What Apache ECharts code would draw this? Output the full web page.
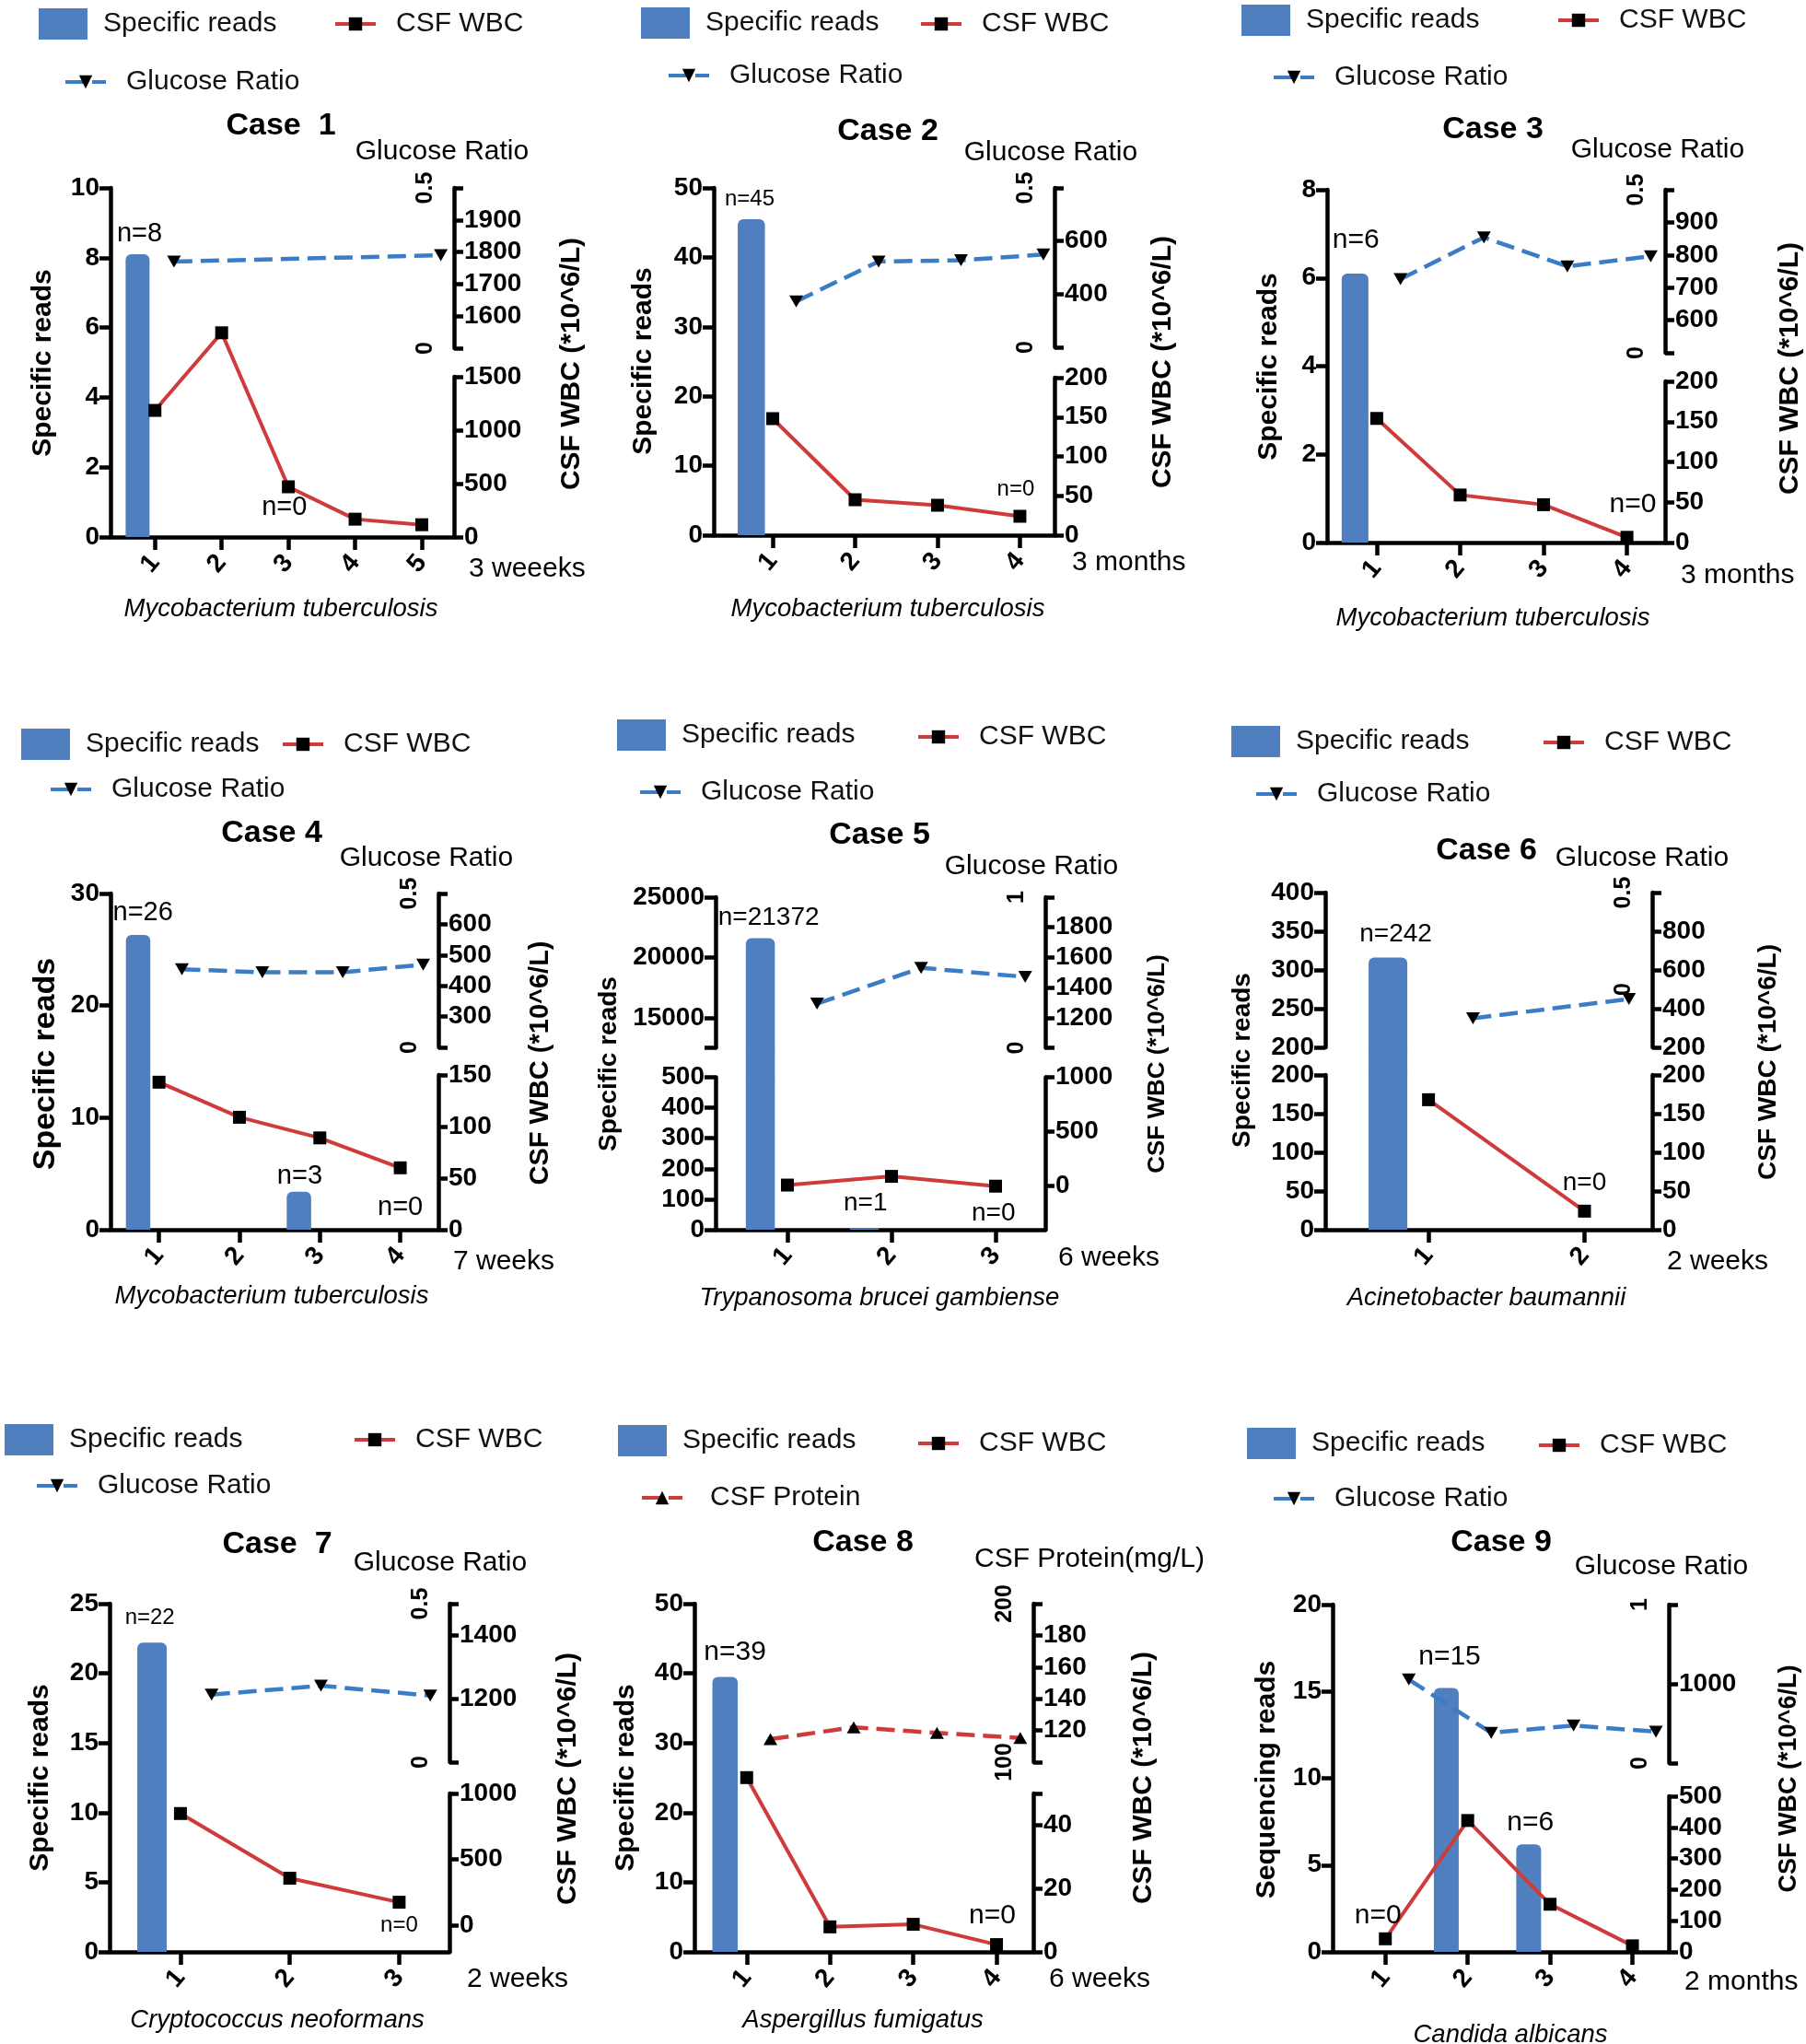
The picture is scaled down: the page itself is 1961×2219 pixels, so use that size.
<!DOCTYPE html>
<html><head><meta charset="utf-8">
<script src="https://cdn.jsdelivr.net/npm/echarts@6/dist/echarts.min.js"></script>
<style>html,body{margin:0;padding:0;background:#fff}#c{width:1961px;height:2219px}</style>
</head><body><div id="c"></div>
<script>
// ---------------- DATA ----------------
// Case 1
const c1Cat = ['1','2','3','4','5'];
const c1Reads = [8.1, null, 0, null, null];
const c1Wbc = [1185, 1548, 470, 167, 115];
const c1Glu = [0.27, null, null, null, 0.29];
const c1LeftTicks = [0,2,4,6,8,10];
const c1WbcTicks = [0,500,1000,1500];
const c1UpTicks = [1500,1600,1700,1800,1900,2000];
const c1UpLabels = [1600,1700,1800,1900];
const c1GluLabels = [0,0.5];
// Case 2
const c2Cat = ['1','2','3','4'];
const c2Reads = [45.5, null, null, 0];
const c2Wbc = [148, 45, 38, 24];
const c2Glu = [0.144, 0.269, 0.273, 0.291];
const c2LeftTicks = [0,10,20,30,40,50];
const c2WbcTicks = [0,50,100,150,200];
const c2UpTicks = [200,400,600,800];
const c2UpLabels = [400,600];
const c2GluLabels = [0,0.5];
// Case 3
const c3Cat = ['1','2','3','4'];
const c3Reads = [6.1, null, null, 0];
const c3Wbc = [154, 59, 47, 6.5];
const c3Glu = [0.226, 0.354, 0.265, 0.296];
const c3LeftTicks = [0,2,4,6,8];
const c3WbcTicks = [0,50,100,150,200];
const c3UpTicks = [500,600,700,800,900,1000];
const c3UpLabels = [600,700,800,900];
const c3GluLabels = [0,0.5];
// Case 4
const c4Cat = ['1','2','3','4'];
const c4Reads = [26.3, null, 3.4, 0];
const c4Wbc = [143, 109, 89, 60];
const c4Glu = [0.254, 0.244, 0.244, 0.269];
const c4LeftTicks = [0,10,20,30];
const c4WbcTicks = [0,50,100,150];
const c4UpTicks = [200,300,400,500,600,700];
const c4UpLabels = [300,400,500,600];
const c4GluLabels = [0,0.5];
// Case 5
const c5Cat = ['1','2','3'];
const c5Reads = [21600, 5, 0];
const c5Wbc = [10, 90, 0];
const c5Glu = [0.293, 0.531, 0.471];
const c5LeftLowTicks = [0,100,200,300,400,500];
const c5LeftUpTicks = [12500,15000,20000,25000];
const c5LeftUpLabels = [15000,20000,25000];
const c5WbcTicks = [0,500,1000];
const c5UpTicks = [1000,1200,1400,1600,1800,2000];
const c5UpLabels = [1200,1400,1600,1800];
const c5GluLabels = [0,1];
// Case 6
const c6Cat = ['1','2'];
const c6Reads = [316, 0];
const c6Wbc = [168, 24];
const c6Glu = [-0.15, -0.05];
const c6LeftLowTicks = [0,50,100,150,200];
const c6LeftUpTicks = [200,250,300,350,400];
const c6WbcTicks = [0,50,100,150,200];
const c6UpTicks = [200,400,600,800,1000];
const c6UpLabels = [200,400,600,800];
const c6GluLabels = [0,0.5];
// Case 7
const c7Cat = ['1','2','3'];
const c7Reads = [22.2, null, 0];
const c7Wbc = [848, 358, 176];
const c7Glu = [0.213, 0.241, 0.210];
const c7LeftTicks = [0,5,10,15,20,25];
const c7WbcTicks = [0,500,1000];
const c7UpTicks = [1000,1200,1400,1500];
const c7UpLabels = [1200,1400];
const c7GluLabels = [0,0.5];
// Case 8
const c8Cat = ['1','2','3','4'];
const c8Reads = [39.5, null, null, 0];
const c8Wbc = [55, 7.9, 8.7, 2.3];
const c8Protein = [114.5, 122, 118.4, 115.3];
const c8LeftTicks = [0,10,20,30,40,50];
const c8WbcTicks = [0,20,40,50];
const c8WbcLabels = [0,20,40];
const c8UpTicks = [100,120,140,160,180,200];
const c8UpLabels = [120,140,160,180];
const c8ProteinLabels = [100,200];
// Case 9
const c9Cat = ['1','2','3','4'];
const c9Reads = [0, 15.2, 6.2, null];
const c9Wbc = [42, 422, 153, 19.5];
const c9Glu = [0.527, 0.191, 0.237, 0.198];
const c9LeftTicks = [0,5,10,15,20];
const c9WbcTicks = [0,100,200,300,400,500];
const c9UpTicks = [0,1000,2000];
const c9UpLabels = [1000];
const c9GluLabels = [0,1];

// ---------------- STYLE ----------------
const FONT = 'Liberation Sans';
const BAR = '#4F7FBF';
const RED = '#CF3A3A';
const BLUE = '#3A7CC6';
const BAR_OFF = -0.26, GLU_OFF = 0.285;
const TRI_DOWN = 'path://M0,0L10,0L5,9Z';
const AXW = 4.5;

const first = a => a[0], last = a => a[a.length-1];
const seg = (ticks, labels, min, max) => ({min: min ?? first(ticks), max: max ?? last(ticks), ticks, labels: labels || ticks});

// ---------------- PANELS (layout) ----------------
const panels = [
 {cat:c1Cat, reads:c1Reads, wbc:c1Wbc, glu:c1Glu, L:120,R:493,T:204,UB:378,LT:409,B:583, xmin:0.334,xmax:5.483, barW:26, noteSize:29,
  left:seg(c1LeftTicks), wbcLow:seg(c1WbcTicks), up:seg(c1UpTicks,c1UpLabels), gluAx:{min:0,max:0.5,labels:c1GluLabels}, wbcUp:true,
  notes:[{t:'n=8',x:0.77,y:8.68},{t:'n=0',x:2.94,y:0.84}],
  lg:{rect:[42,26],wbc:[362,26],glu:[69,89]},
  title:[305,137,'Case  1'], topName:[480,165,'Glucose Ratio'], leftName:[47,394,'Specific reads',30], rightName:[621,395,30],
  time:[509,618,'3 weeeks'], species:[305,661,'Mycobacterium tuberculosis']},
 {cat:c2Cat, reads:c2Reads, wbc:c2Wbc, glu:c2Glu, L:775,R:1145,T:204,UB:377,LT:410,B:581, xmin:0.284,xmax:4.42, barW:29.5, noteSize:24,
  left:seg(c2LeftTicks), wbcLow:seg(c2WbcTicks), up:seg(c2UpTicks,c2UpLabels), gluAx:{min:0,max:0.5,labels:c2GluLabels},
  notes:[{t:'n=45',x:0.72,y:48.3},{t:'n=0',x:3.95,y:6.6}],
  lg:{rect:[696,25],wbc:[998,26],glu:[724,82]},
  title:[964,143,'Case 2'], topName:[1141,166,'Glucose Ratio'], leftName:[699,392,'Specific reads',30], rightName:[1263,393,30],
  time:[1164,611,'3 months'], species:[964,661,'Mycobacterium tuberculosis']},
 {cat:c3Cat, reads:c3Reads, wbc:c3Wbc, glu:c3Glu, L:1441,R:1808,T:206,UB:383,LT:414,B:589, xmin:0.405,xmax:4.457, barW:29, noteSize:30,
  left:seg(c3LeftTicks), wbcLow:seg(c3WbcTicks), up:seg(c3UpTicks,c3UpLabels), gluAx:{min:0,max:0.5,labels:c3GluLabels},
  notes:[{t:'n=6',x:0.75,y:6.86},{t:'n=0',x:4.07,y:0.86}],
  lg:{rect:[1348,22],wbc:[1690,22],glu:[1381,84]},
  title:[1621,141,'Case 3'], topName:[1800,163,'Glucose Ratio'], leftName:[1378,398,'Specific reads',30], rightName:[1944,400,30],
  time:[1825,625,'3 months'], species:[1621,671,'Mycobacterium tuberculosis']},
 {cat:c4Cat, reads:c4Reads, wbc:c4Wbc, glu:c4Glu, L:120,R:476,T:970,UB:1137,LT:1167,B:1335, xmin:0.397,xmax:4.474, barW:26.5, noteSize:29,
  left:seg(c4LeftTicks), wbcLow:seg(c4WbcTicks), up:seg(c4UpTicks,c4UpLabels), gluAx:{min:0,max:0.5,labels:c4GluLabels},
  notes:[{t:'n=26',x:0.80,y:28.3},{t:'n=3',x:2.75,y:4.8},{t:'n=0',x:4.0,y:2.0}],
  lg:{rect:[23,808],wbc:[305,808],glu:[53,857]},
  title:[295,905,'Case 4'], topName:[463,932,'Glucose Ratio'], leftName:[50,1155,'Specific reads',34], rightName:[587,1154,29],
  time:[492,1370,'7 weeks'], species:[295,1407,'Mycobacterium tuberculosis']},
 {cat:c5Cat, reads:c5Reads, wbc:c5Wbc, glu:c5Glu, L:777,R:1135,T:974,UB:1137.5,LT:1169.5,B:1335, xmin:0.31,xmax:3.478, barW:31.5, noteSize:28,
  leftLow:seg(c5LeftLowTicks), leftUp:seg(c5LeftUpTicks,c5LeftUpLabels), wbcLow:seg(c5WbcTicks,null,-400,1000), up:seg(c5UpTicks,c5UpLabels), gluAx:{min:0,max:1,labels:c5GluLabels},
  notes:[{t:'n=21372',x:0.82,y:23300},{t:'n=1',x:1.75,y:86.6},{t:'n=0',x:2.98,y:54}],
  lg:{rect:[670,798],wbc:[995,800],glu:[693,860]},
  title:[955,907,'Case 5'], topName:[1120,941,'Glucose Ratio'], leftName:[661,1155,'Specific reads',28], rightName:[1257,1155,26],
  time:[1149,1366,'6 weeks'], species:[955,1409,'Trypanosoma brucei gambiense']},
 {cat:c6Cat, reads:c6Reads, wbc:c6Wbc, glu:c6Glu, L:1439,R:1794,T:969,UB:1137,LT:1167,B:1335, xmin:0.338,xmax:2.434, barW:42, noteSize:28,
  leftLow:seg(c6LeftLowTicks), leftUp:seg(c6LeftUpTicks), wbcLow:seg(c6WbcTicks), up:seg(c6UpTicks,c6UpLabels), gluAx:{min:-0.3,max:0.5,labels:c6GluLabels},
  notes:[{t:'n=242',x:0.79,y:346.6},{t:'n=0',x:2.0,y:60}],
  lg:{rect:[1337,805],wbc:[1674,806],glu:[1362,862]},
  title:[1614,924,'Case 6'], topName:[1783,932,'Glucose Ratio'], leftName:[1349,1151,'Specific reads',28], rightName:[1920,1153,28],
  time:[1810,1370,'2 weeks'], species:[1614,1409,'Acinetobacter baumannii']},
 {cat:c7Cat, reads:c7Reads, wbc:c7Wbc, glu:c7Glu, L:119,R:488,T:1741,UB:1913,LT:1947,B:2119, xmin:0.352,xmax:3.46, barW:32, noteSize:24,
  left:seg(c7LeftTicks), wbcLow:seg(c7WbcTicks,null,-200,1000), up:seg(c7UpTicks,c7UpLabels), gluAx:{min:0,max:0.5,labels:c7GluLabels},
  notes:[{t:'n=22',x:0.72,y:24},{t:'n=0',x:3.0,y:1.9}],
  lg:{rect:[5,1563],wbc:[383,1563],glu:[38,1613]},
  title:[301,1677,'Case  7'], topName:[478,1697,'Glucose Ratio'], leftName:[44,1930,'Specific reads',30], rightName:[617,1931,30],
  time:[507,2149,'2 weeks'], species:[301,2193,'Cryptococcus neoformans']},
 {cat:c8Cat, reads:c8Reads, wbc:c8Wbc, glu:c8Protein, protein:true, L:754,R:1122,T:1741,UB:1913,LT:1947,B:2119, xmin:0.372,xmax:4.442, barW:27.5, noteSize:30,
  left:seg(c8LeftTicks), wbcLow:seg(c8WbcTicks,c8WbcLabels), up:seg(c8UpTicks,c8UpLabels), gluAx:{min:100,max:200,labels:c8ProteinLabels}, wbcNoClip:true,
  notes:[{t:'n=39',x:0.86,y:43},{t:'n=0',x:3.95,y:5.2}],
  lg:{rect:[671,1564],wbc:[995,1567],glu:[695,1626]},
  title:[937,1675,'Case 8'], topName:[1183,1693,'CSF Protein(mg/L)'], leftName:[680,1930,'Specific reads',30], rightName:[1242,1930,30],
  time:[1139,2149,'6 weeks'], species:[937,2193,'Aspergillus fumigatus']},
 {cat:c9Cat, reads:c9Reads, wbc:c9Wbc, glu:c9Glu, L:1447,R:1812,T:1742,UB:1914,LT:1950,B:2119, xmin:0.36,xmax:4.441, barW:27, noteSize:30,
  left:seg(c9LeftTicks), wbcLow:seg(c9WbcTicks), up:seg(c9UpTicks,c9UpLabels), gluAx:{min:0,max:1,labels:c9GluLabels},
  notes:[{t:'n=15',x:1.78,y:17.0},{t:'n=6',x:2.76,y:7.46},{t:'n=0',x:0.91,y:2.1}],
  lg:{rect:[1354,1567],wbc:[1669,1569],glu:[1381,1627]},
  title:[1630,1675,'Case 9'], topName:[1804,1701,'Glucose Ratio'], leftName:[1376,1932,'Sequencing reads',30], rightName:[1943,1931,27],
  time:[1829,2152,'2 months'], species:[1640,2209,'Candida albicans']}
];

// ---------------- BUILD ----------------
const option = {animation:false, backgroundColor:'#ffffff', grid:[], xAxis:[], yAxis:[], series:[], legend:[]};
const texts = [];

function addGrid(l,t,w,h){ option.grid.push({left:l, top:t, width:w, height:h, containLabel:false, outerBoundsMode:'none'}); return option.grid.length-1; }
function addX(g, p, visible){
  const ticks = p.cat.map((c,i)=>i+1);
  option.xAxis.push({type:'value', gridIndex:g, min:p.xmin, max:p.xmax, show:visible,
    axisLine:{show:true, onZero:false, lineStyle:{color:'#000', width:AXW}},
    axisTick:{show:true, inside:false, length:14, customValues:ticks, lineStyle:{color:'#000', width:AXW}},
    axisLabel:{show:true, customValues:ticks, formatter:v=>p.cat[Math.round(v)-1], rotate:50, margin:23,
      fontSize:28, fontWeight:'bold', fontFamily:FONT, color:'#000'},
    splitLine:{show:false}});
  return option.xAxis.length-1;
}
function addY(g, pos, s, o){
  o = o || {};
  option.yAxis.push({type:'value', gridIndex:g, position:pos, min:s.min, max:s.max, show:!o.hidden,
    axisLine:{show:!o.noLine, onZero:false, lineStyle:{color:'#000', width:AXW}},
    axisTick:{show:!!s.ticks, inside:false, length:pos==='left'?12:10, customValues:s.ticks, lineStyle:{color:'#000', width:AXW}},
    axisLabel:{show:!!s.labels, customValues:s.labels, inside:!!o.rot, rotate:o.rot?90:0,
      margin:o.rot?18:(pos==='left'?12:11), fontSize:o.rot?25:28, fontWeight:'bold', fontFamily:FONT, color:'#000',
      formatter:v=>String(v)},
    splitLine:{show:false}});
  return option.yAxis.length-1;
}
function txt(x,y,text,size,o){
  o = o || {};
  return {type:'text', x:x, y:y, rotation:o.rot?Math.PI/2:0, silent:true, z:10,
    style:{text:text, fontSize:size, fontFamily:FONT, fontWeight:o.bold?'bold':'normal', fontStyle:o.italic?'italic':'normal',
      fill:'#000', align:o.align||'center', verticalAlign:'middle'}};
}
const lgText = pad => ({fontSize:30, fontFamily:FONT, color:'#111', padding:[0,0,0,pad]});

panels.forEach(p => {
  const W = p.R - p.L;
  const broken = !!p.leftLow;
  const ix = {};
  const gLow = addGrid(p.L, p.LT, W, p.B - p.LT);
  const gUp = addGrid(p.L, p.T, W, p.UB - p.T);
  ix.lowX = addX(gLow, p, true);
  ix.upX = addX(gUp, p, false);
  ix.wbcY = addY(gLow, 'right', p.wbcLow);
  ix.upY = addY(gUp, 'right', p.up);
  ix.gluY = addY(gUp, 'right', p.gluAx, {rot:true, noLine:true});
  if (!broken) {
    const gFull = addGrid(p.L, p.T, W, p.B - p.T);
    ix.fullX = addX(gFull, p, false);
    ix.leftY = addY(gFull, 'left', p.left);
  } else {
    ix.leftLowY = addY(gLow, 'left', p.leftLow);
    ix.leftUpY = addY(gUp, 'left', p.leftUp);
    // bridge across the axis break, overlapping both segments by 1px to avoid seams
    const gBr = addGrid(p.L, p.UB - 1, W, p.LT - p.UB + 2);
    ix.brX = addX(gBr, p, false);
    ix.brY = addY(gBr, 'left', {min:0, max:1}, {hidden:true});
  }
  p.ix = ix;

  // bars
  const barPts = [];
  p.reads.forEach((v,i)=>{ if (v != null) barPts.push([i+1+BAR_OFF, v]); });
  const bb = {type:'bar', barWidth:p.barW, silent:true, z:2};
  if (!broken) {
    option.series.push(Object.assign({}, bb, {name:'Specific reads', xAxisIndex:ix.fullX, yAxisIndex:ix.leftY, data:barPts,
      itemStyle:{color:BAR, borderRadius:[6,6,0,0]}}));
  } else {
    const m = p.leftLow.max;
    option.series.push(Object.assign({}, bb, {name:'Specific reads', xAxisIndex:ix.lowX, yAxisIndex:ix.leftLowY, data:barPts, itemStyle:{color:BAR}}));
    option.series.push(Object.assign({}, bb, {xAxisIndex:ix.brX, yAxisIndex:ix.brY, data:barPts.map(d=>[d[0], d[1] > m ? 1 : 0]), itemStyle:{color:BAR}}));
    option.series.push(Object.assign({}, bb, {xAxisIndex:ix.upX, yAxisIndex:ix.leftUpY, data:barPts.filter(d=>d[1] > m),
      itemStyle:{color:BAR, borderRadius:[6,6,0,0]}}));
  }

  // CSF WBC
  const wm = p.wbcLow.max;
  const lineBase = {type:'line', symbol:'rect', symbolSize:14, itemStyle:{color:'#000'}, lineStyle:{color:RED, width:4},
    connectNulls:false, silent:true, z:3};
  option.series.push(Object.assign({}, lineBase, {name:'CSF WBC', xAxisIndex:ix.lowX, yAxisIndex:ix.wbcY,
    clip: !p.wbcNoClip,
    data:p.wbc.map((v,i)=>[i+1, (v != null && !(p.wbcUp && v > wm)) ? v : null])}));
  if (p.wbcUp) {
    option.series.push(Object.assign({}, lineBase, {xAxisIndex:ix.upX, yAxisIndex:ix.upY,
      data:p.wbc.map((v,i)=>[i+1, (v != null && v > wm) ? v : null])}));
  }

  // glucose ratio / protein
  const gd = [];
  p.glu.forEach((v,i)=>{ if (v != null) gd.push([i+1+GLU_OFF, v]); });
  option.series.push({type:'line', name:p.protein ? 'CSF Protein' : 'Glucose Ratio', xAxisIndex:ix.upX, yAxisIndex:ix.gluY, data:gd,
    symbol:p.protein ? 'triangle' : TRI_DOWN, symbolSize:[15,13], itemStyle:{color:'#000'},
    lineStyle:{color:p.protein ? RED : BLUE, width:4.5, type:[20,9]}, silent:true, z:3});

  // n= annotations
  const noteSeries = (xi, yi, list) => {
    if (!list.length) return;
    option.series.push({type:'scatter', xAxisIndex:xi, yAxisIndex:yi, symbolSize:2, itemStyle:{color:'rgba(0,0,0,0)'}, silent:true, z:5,
      data:list.map(n=>({value:[n.x, n.y], name:n.t})),
      label:{show:true, position:'inside', formatter:'{b}', fontSize:p.noteSize, fontFamily:FONT, color:'#000', opacity:1}});
  };
  if (!broken) noteSeries(ix.fullX, ix.leftY, p.notes);
  else {
    noteSeries(ix.lowX, ix.leftLowY, p.notes.filter(n=>n.y <= p.leftLow.max));
    noteSeries(ix.upX, ix.leftUpY, p.notes.filter(n=>n.y > p.leftLow.max));
  }

  // legends
  option.legend.push({data:['Specific reads'], left:p.lg.rect[0], top:p.lg.rect[1]-17, itemWidth:53, itemHeight:34, icon:'rect',
    padding:0, selectedMode:false, textStyle:lgText(12)});
  option.legend.push({data:['CSF WBC'], left:p.lg.wbc[0], top:p.lg.wbc[1]-15, itemWidth:44, itemHeight:18,
    lineStyle:{width:4}, padding:0, selectedMode:false, textStyle:lgText(17)});
  option.legend.push({data:[p.protein ? 'CSF Protein' : 'Glucose Ratio'], left:p.lg.glu[0], top:p.lg.glu[1]-15, itemWidth:44, itemHeight:18,
    lineStyle:{width:4}, padding:0, selectedMode:false, textStyle:lgText(p.protein ? 25 : 17)});

  // texts
  texts.push(txt(p.title[0], p.title[1], p.title[2], 34, {bold:true}));
  texts.push(txt(p.topName[0], p.topName[1], p.topName[2], 30));
  texts.push(txt(p.leftName[0], p.leftName[1], p.leftName[2], p.leftName[3], {bold:true, rot:true}));
  texts.push(txt(p.rightName[0], p.rightName[1], 'CSF WBC (*10^6/L)', p.rightName[2], {bold:true, rot:true}));
  texts.push(txt(p.time[0], p.time[1], p.time[2], 30, {align:'left'}));
  texts.push(txt(p.species[0], p.species[1], p.species[2], 27.5, {italic:true}));
});

option.graphic = {elements: texts};
const chart = echarts.init(document.getElementById('c'), null, {renderer:'canvas'});
chart.setOption(option);

// WBC segments that cross the right-axis break (drawn through both axes' scales)
const bridges = [];
panels.forEach(p => {
  if (!p.wbcUp) return;
  const m = p.wbcLow.max, ix = p.ix;
  const px = p.wbc.map((v,i) => v == null ? null :
    (v > m ? chart.convertToPixel({xAxisIndex:ix.upX, yAxisIndex:ix.upY}, [i+1, v])
           : chart.convertToPixel({xAxisIndex:ix.lowX, yAxisIndex:ix.wbcY}, [i+1, v])));
  for (let i = 0; i < p.wbc.length-1; i++) {
    const a = p.wbc[i], b = p.wbc[i+1];
    if (a == null || b == null) continue;
    if ((a > m) !== (b > m)) {
      bridges.push({type:'line', silent:true, z:1,
        shape:{x1:px[i][0], y1:px[i][1], x2:px[i+1][0], y2:px[i+1][1]}, style:{stroke:RED, lineWidth:4}});
    }
  }
});
chart.setOption({graphic:{elements: texts.concat(bridges)}});
</script></body></html>
